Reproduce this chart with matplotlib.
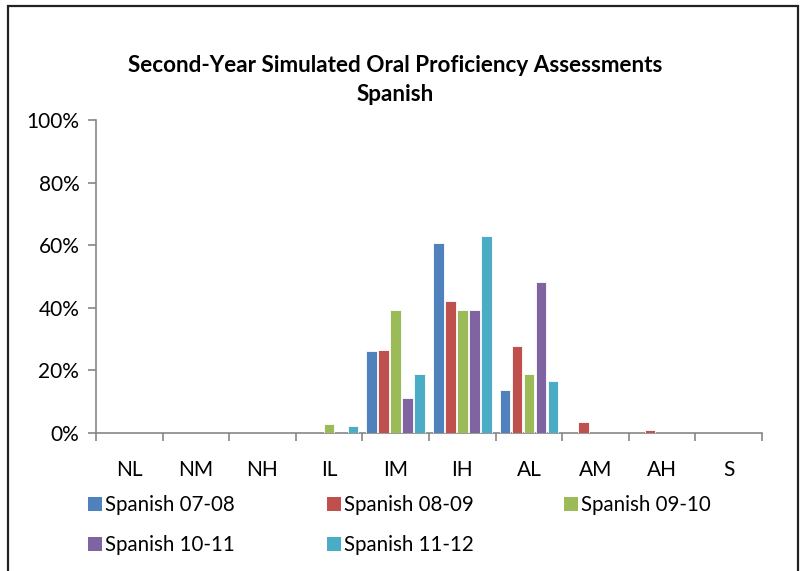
import matplotlib
matplotlib.use("Agg")
import matplotlib.pyplot as plt
from matplotlib.patches import Rectangle
import numpy as np

categories = ["NL", "NM", "NH", "IL", "IM", "IH", "AL", "AM", "AH", "S"]
series_names = ["Spanish 07-08", "Spanish 08-09", "Spanish 09-10", "Spanish 10-11", "Spanish 11-12"]
s0708 = [0, 0, 0, 0, 26.0, 60.6, 13.5, 0, 0, 0]
s0809 = [0, 0, 0, 0, 26.6, 42.2, 27.8, 3.4, 1.0, 0]
s0910 = [0, 0, 0, 2.9, 39.2, 39.2, 18.8, 0, 0, 0]
s1011 = [0, 0, 0, 0, 11.1, 39.2, 48.1, 0, 0, 0]
s1112 = [0, 0, 0, 2.1, 18.8, 63.0, 16.5, 0, 0, 0]
series = [s0708, s0809, s0910, s1011, s1112]
colors = ["#4F81BD", "#C0504D", "#9BBB59", "#8064A2", "#4BACC6"]
yticks = [0, 20, 40, 60, 80, 100]
ytick_labels = ["0%", "20%", "40%", "60%", "80%", "100%"]

plt.rcParams['font.family'] = ['Lato', 'DejaVu Sans']

W, H = 801, 571
fig = plt.figure(figsize=(W / 100, H / 100), dpi=100)
ax = fig.add_axes([96 / W, 1 - 432.7 / H, (762 - 96) / W, (432.7 - 120) / H])

x = np.arange(len(categories))
n = len(series)
pitch = 0.18
width = 0.158
for i, (vals, c, name) in enumerate(zip(series, colors, series_names)):
    offs = (i - (n - 1) / 2) * pitch
    ax.bar(x + offs, vals, width=width, color=c, edgecolor="white", linewidth=0.6, label=name, zorder=3)

ax.set_xlim(-0.5, len(categories) - 0.5)
ax.set_ylim(0, 100)
ax.set_yticks(yticks)
ax.set_yticklabels(ytick_labels)
ax.set_xticks(x)
ax.set_xticklabels(categories)
ax.set_xticks(np.arange(-0.5, len(categories), 1.0), minor=True)
ax.tick_params(axis="x", which="major", length=0, pad=20, labelsize=15)
ax.tick_params(axis="x", which="minor", length=6, width=1.2, color="#868686", direction="out")
ax.tick_params(axis="y", length=6, width=1.2, color="#868686", direction="out", pad=6, labelsize=15)
for s in ["top", "right"]:
    ax.spines[s].set_visible(False)
for s in ["left", "bottom"]:
    ax.spines[s].set_color("#868686")
    ax.spines[s].set_linewidth(1.2)

fig.text(395 / W, 1 - 80 / H, "Second-Year Simulated Oral Proficiency Assessments\nSpanish",
         ha="center", va="center", fontsize=16.2, fontweight="bold", linespacing=1.42)

# legend laid out like the original (row-major, 3 columns)
leg_cols_px = [88, 327, 564]
leg_rows_px = [503.7, 543.7]
sq = 14
for i, (name, c) in enumerate(zip(series_names, colors)):
    r, col = divmod(i, 3)
    lx = leg_cols_px[col]
    cy = leg_rows_px[r]
    fig.patches.append(Rectangle((lx / W, 1 - (cy + sq / 2) / H), sq / W, sq / H,
                                 transform=fig.transFigure, facecolor=c, edgecolor="none"))
    fig.text((lx + 17) / W, 1 - (cy + 7) / H, name, ha="left", va="baseline", fontsize=14.8)

border = Rectangle((8 / W, -0.1), (798 - 8) / W, 1.1 - 6.5 / H, transform=fig.transFigure,
                   fill=False, edgecolor="#222222", linewidth=1.6, clip_on=False)
fig.patches.append(border)

fig.savefig("out.png", dpi=100)
